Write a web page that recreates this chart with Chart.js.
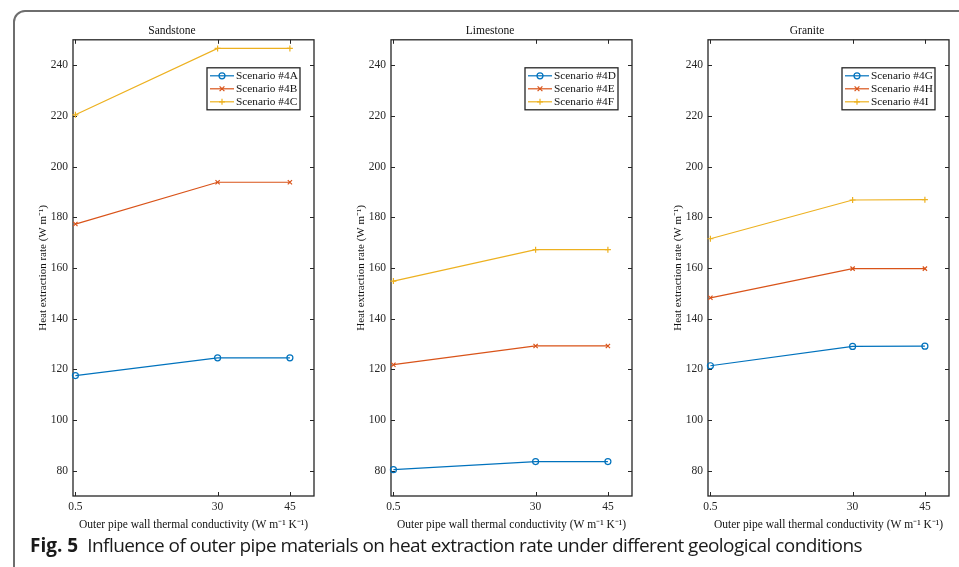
<!DOCTYPE html>
<html>
<head>
<meta charset="utf-8">
<script src="https://cdn.jsdelivr.net/npm/chart.js@4.4.1/dist/chart.umd.min.js"></script>
<style>
  body { margin: 0; background: #fff; width: 959px; height: 567px; overflow: hidden; position: relative; }
  .frame { position: absolute; left: 13px; top: 10px; width: 1000px; height: 620px;
           border: 2px solid #6e6e6e; border-radius: 12px; box-sizing: border-box; }
  .panel { position: absolute; top: 10px; }
  .caption { position: absolute; left: 30px; top: 532px; font-family: "Open Sans", sans-serif;
             font-size: 19px; color: #1a1a1a; white-space: nowrap; letter-spacing: -0.55px; }
  .caption b { font-weight: 700; margin-right: 9px; letter-spacing: 0; }
</style>
</head>
<body>
<div class="frame"></div>
<div class="panel" style="left:30px"><canvas id="chart0" width="294" height="524"></canvas></div>
<div class="panel" style="left:348px"><canvas id="chart1" width="294" height="524"></canvas></div>
<div class="panel" style="left:665px"><canvas id="chart2" width="294" height="524"></canvas></div>
<div class="caption"><b>Fig. 5</b>Influence of outer pipe materials on heat extraction rate under different geological conditions</div>

<script>
// conductivity values on the x axis
const conductivity = [0.5, 30, 45];
const xTicks = [0.5, 30, 45];
const yTicks = [80, 100, 120, 140, 160, 180, 200, 220, 240];

const panelTitles = ["Sandstone", "Limestone", "Granite"];

// heat extraction rate (W/m)
const sandstone4A = [117.5, 124.5, 124.5];
const sandstone4B = [177.3, 193.8, 193.8];
const sandstone4C = [220.4, 246.6, 246.6];

const limestone4D = [80.4, 83.6, 83.6];
const limestone4E = [121.8, 129.2, 129.2];
const limestone4F = [154.8, 167.2, 167.2];

const granite4G = [121.4, 129.0, 129.1];
const granite4H = [148.2, 159.7, 159.7];
const granite4I = [171.5, 186.8, 186.9];

const scenarioLabels = [
  ["Scenario #4A", "Scenario #4B", "Scenario #4C"],
  ["Scenario #4D", "Scenario #4E", "Scenario #4F"],
  ["Scenario #4G", "Scenario #4H", "Scenario #4I"],
];
const panelSeries = [
  [sandstone4A, sandstone4B, sandstone4C],
  [limestone4D, limestone4E, limestone4F],
  [granite4G, granite4H, granite4I],
];

const colors = ["#0072BD", "#D95319", "#EDB120"];
const markers = ["circle", "crossRot", "cross"];
const serif = "'Liberation Serif', 'Times New Roman', serif";
const axisColor = "#262626";

function drawMarker(ctx, style, x, y, r) {
  ctx.beginPath();
  if (style === "circle") {
    ctx.arc(x, y, r, 0, Math.PI * 2);
  } else if (style === "crossRot") {
    ctx.moveTo(x - r * 0.8, y - r * 0.8); ctx.lineTo(x + r * 0.8, y + r * 0.8);
    ctx.moveTo(x - r * 0.8, y + r * 0.8); ctx.lineTo(x + r * 0.8, y - r * 0.8);
  } else {
    ctx.moveTo(x - r, y); ctx.lineTo(x + r, y);
    ctx.moveTo(x, y - r); ctx.lineTo(x, y + r);
  }
  ctx.stroke();
}

// box around the plot with inward ticks on all four sides
const boxAxes = {
  id: "boxAxes",
  beforeDatasetsDraw(chart) {
    const { ctx, chartArea: a, scales } = chart;
    ctx.save();
    ctx.strokeStyle = axisColor;
    ctx.lineWidth = 1.3;
    ctx.strokeRect(a.left, a.top, a.right - a.left, a.bottom - a.top);
    ctx.lineWidth = 1;
    ctx.beginPath();
    scales.y.ticks.forEach(t => {
      const y = Math.round(scales.y.getPixelForValue(t.value)) + 0.5;
      ctx.moveTo(a.left, y); ctx.lineTo(a.left + 4, y);
      ctx.moveTo(a.right, y); ctx.lineTo(a.right - 4, y);
    });
    scales.x.ticks.forEach(t => {
      const x = Math.round(scales.x.getPixelForValue(t.value)) + 0.5;
      ctx.moveTo(x, a.bottom); ctx.lineTo(x, a.bottom - 4);
      ctx.moveTo(x, a.top); ctx.lineTo(x, a.top + 4);
    });
    ctx.stroke();
    ctx.restore();
  },
};

// boxed legend in the upper right of the plot
const boxLegend = {
  id: "boxLegend",
  afterDatasetsDraw(chart) {
    const { ctx, chartArea: a } = chart;
    const w = 93, h = 42;
    const left = a.right - 14 - w;
    const top = a.top + 28;
    ctx.save();
    ctx.fillStyle = "#fff";
    ctx.fillRect(left, top, w, h);
    ctx.strokeStyle = axisColor;
    ctx.lineWidth = 1.3;
    ctx.strokeRect(left, top, w, h);
    ctx.font = "11.3px " + serif;
    ctx.textBaseline = "middle";
    chart.data.datasets.forEach((ds, i) => {
      const y = top + 8 + i * 13;
      ctx.strokeStyle = ds.borderColor;
      ctx.lineWidth = 1.2;
      ctx.beginPath();
      ctx.moveTo(left + 3, y); ctx.lineTo(left + 27, y);
      ctx.stroke();
      drawMarker(ctx, ds.pointStyle, left + 15, y, 3);
      ctx.fillStyle = "#111";
      ctx.fillText(ds.label, left + 29, y + 0.5);
    });
    ctx.restore();
  },
};

function makePanel(idx) {
  const ctx = document.getElementById("chart" + idx).getContext("2d");
  const datasets = panelSeries[idx].map((vals, i) => ({
    label: scenarioLabels[idx][i],
    data: conductivity.map((x, k) => ({ x: x, y: vals[k] })),
    borderColor: colors[i],
    backgroundColor: "rgba(0,0,0,0)",
    borderWidth: 1.2,
    pointStyle: markers[i],
    pointRadius: 3,
    pointBorderWidth: 1.2,
    pointBorderColor: colors[i],
    tension: 0,
    clip: false,
  }));

  return new Chart(ctx, {
    type: "line",
    data: { datasets: datasets },
    options: {
      responsive: false,
      animation: false,
      layout: { padding: { left: 0, right: 10, top: 0, bottom: 0 } },
      plugins: {
        legend: { display: false },
        tooltip: { enabled: false },
        title: {
          display: true,
          text: panelTitles[idx],
          color: "#111",
          font: { family: serif, size: 11.5, weight: "normal" },
          padding: { top: 14, bottom: 2 },
        },
      },
      scales: {
        x: {
          type: "linear",
          min: 0,
          max: 50,
          grid: { display: false, drawTicks: false },
          border: { display: false },
          afterBuildTicks: s => { s.ticks = xTicks.map(v => ({ value: v })); },
          afterFit: s => { s.height = 38; },
          ticks: {
            color: axisColor,
            padding: 4,
            maxRotation: 0,
            font: { family: serif, size: 11.5 },
            callback: v => String(v),
          },
          title: {
            display: true,
            text: "Outer pipe wall thermal conductivity (W m\u207B\u00B9 K\u207B\u00B9)",
            color: "#111",
            font: { family: serif, size: 11.5 },
            padding: { top: 0, bottom: 2.4 },
          },
        },
        y: {
          type: "linear",
          min: 70,
          max: 250,
          grid: { display: false, drawTicks: false },
          border: { display: false },
          afterBuildTicks: s => { s.ticks = yTicks.map(v => ({ value: v })); },
          afterFit: s => { s.width = 43; },
          ticks: {
            color: axisColor,
            padding: 5,
            font: { family: serif, size: 11.5 },
            callback: v => String(v),
          },
          title: {
            display: true,
            text: "Heat extraction rate (W m\u207B\u00B9)",
            color: "#111",
            font: { family: serif, size: 11 },
            padding: { top: 6.4, bottom: 0 },
          },
        },
      },
    },
    plugins: [boxAxes, boxLegend],
  });
}

panelTitles.forEach((t, i) => makePanel(i));
</script>
</body>
</html>
